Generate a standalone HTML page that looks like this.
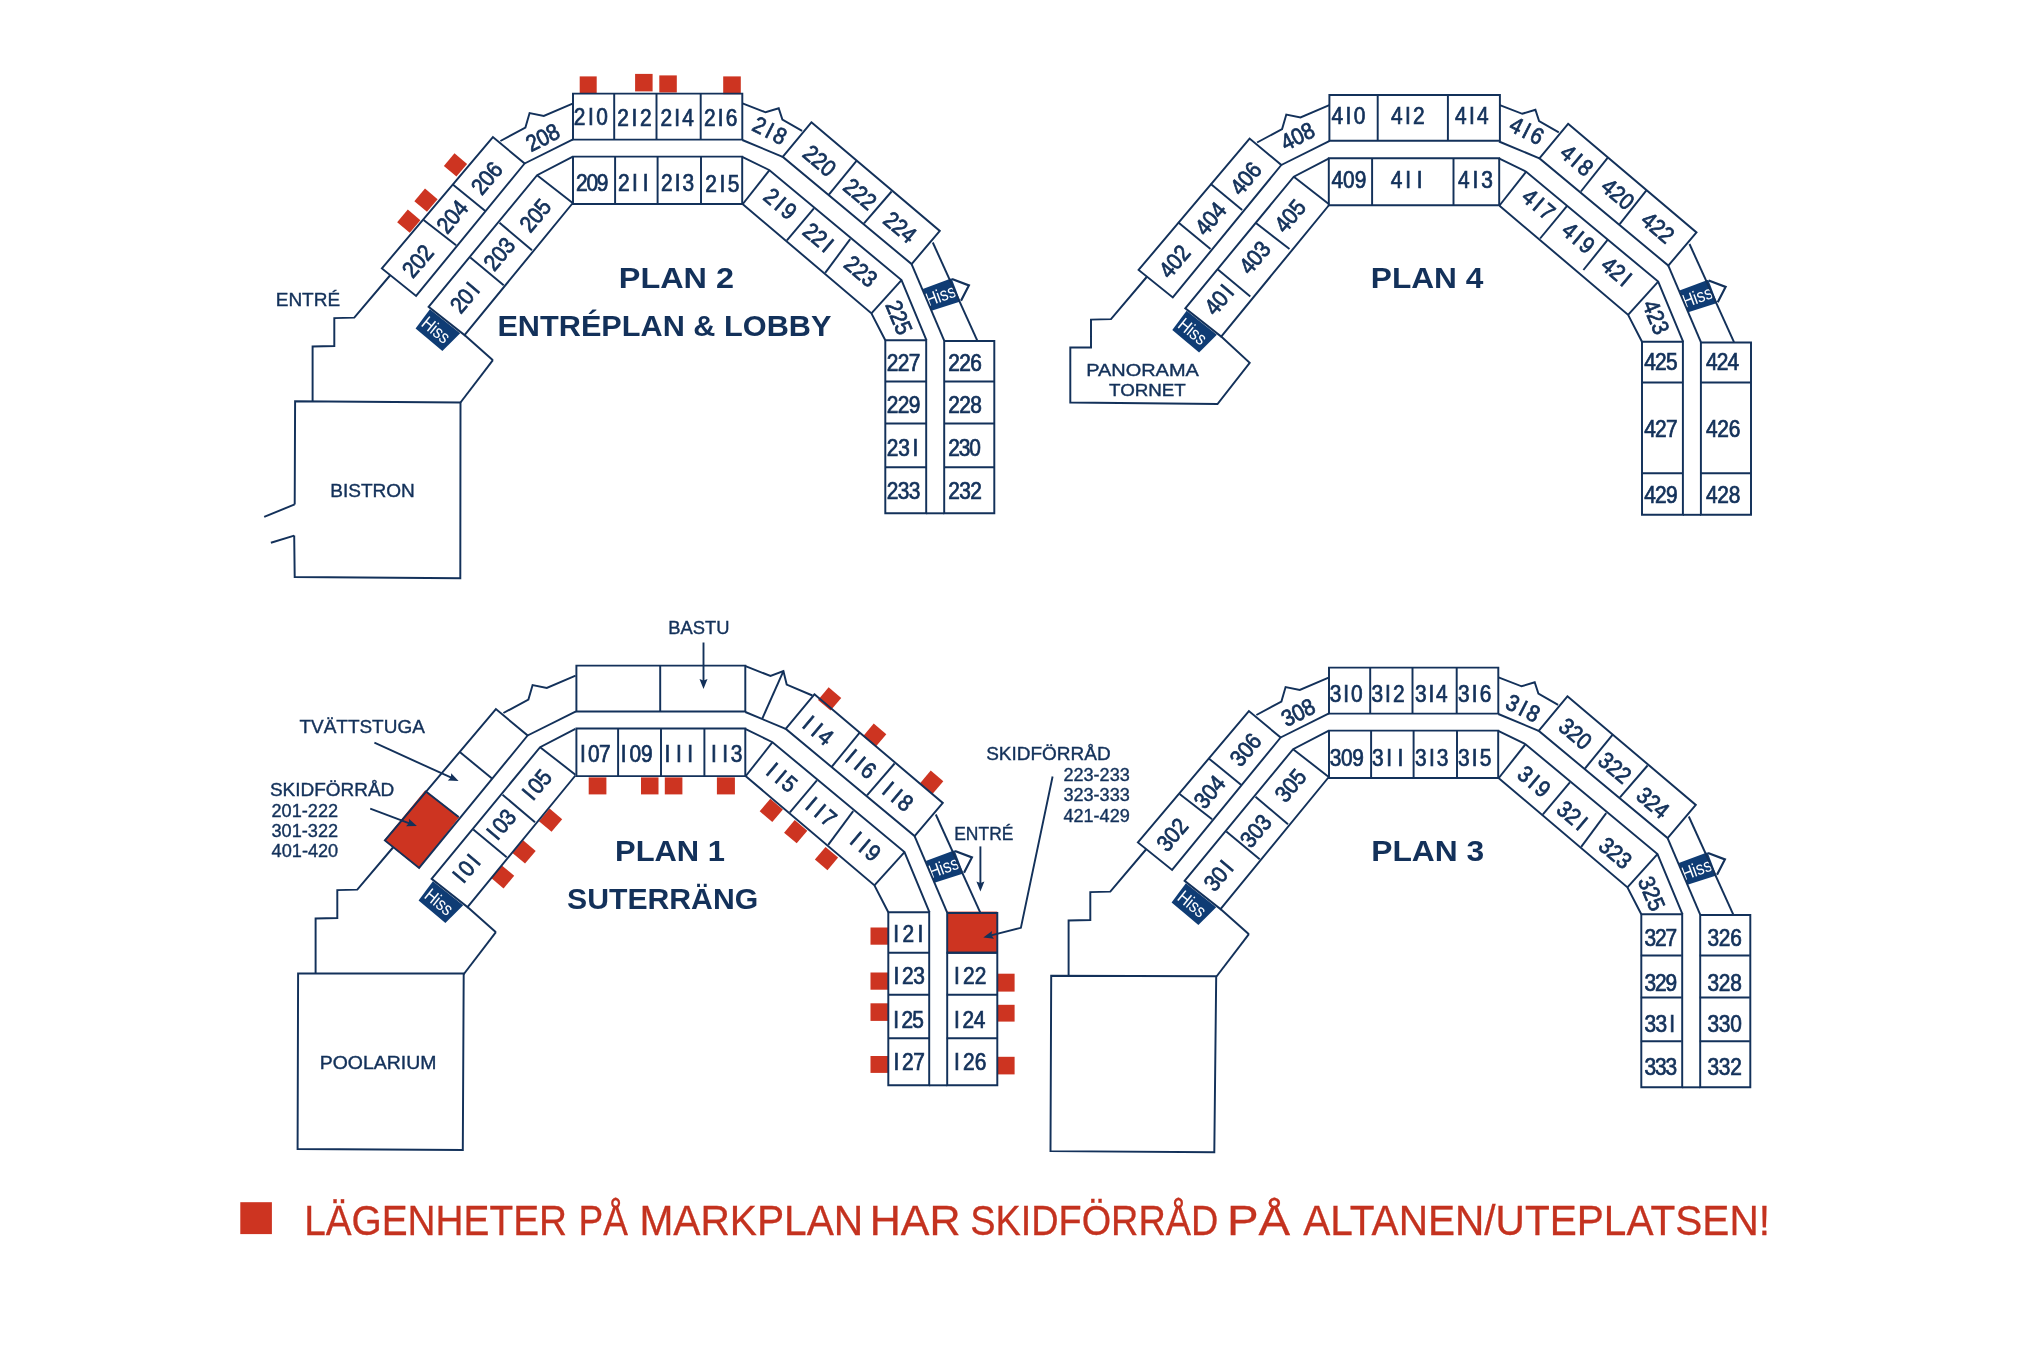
<!DOCTYPE html>
<html><head><meta charset="utf-8"><style>
html,body{margin:0;padding:0;background:#fff;}
svg{display:block;will-change:transform;}
text{font-family:"Liberation Sans",sans-serif;}
</style></head><body>
<svg width="2043" height="1365" viewBox="0 0 2043 1365">
<rect width="2043" height="1365" fill="#ffffff"/>
<polygon points="415.6,328.6 429.9,309.3 460.2,333.2 442.4,351.0" fill="#0f3c74"/>
<text transform="translate(437.0,330.5) rotate(39.0)" x="-1.2" y="6.5" font-size="18.5" text-anchor="middle" fill="#ffffff" textLength="30.5" lengthAdjust="spacingAndGlyphs">Hiss</text>
<polygon points="922.8,288.9 951.6,278.2 960.4,301.4 931.5,310.8" fill="#0f3c74"/>
<text transform="translate(941.6,294.8) rotate(-20.4)" x="-1.2" y="6.5" font-size="18.5" text-anchor="middle" fill="#ffffff" textLength="30.5" lengthAdjust="spacingAndGlyphs">Hiss</text>
<rect x="579.7" y="76.4" width="17.0" height="17.099999999999994" fill="#cd3421"/>
<rect x="635.1" y="73.9" width="17.5" height="17.5" fill="#cd3421"/>
<rect x="659.3" y="75.4" width="17.5" height="17.099999999999994" fill="#cd3421"/>
<rect x="723.2" y="76.4" width="17.59999999999991" height="17.799999999999997" fill="#cd3421"/>
<rect x="-8.2" y="-8.2" width="16.5" height="16.5" fill="#cd3421" transform="translate(455.4,165.0) rotate(-49.8)"/>
<rect x="-8.2" y="-8.2" width="16.5" height="16.5" fill="#cd3421" transform="translate(425.9,200.2) rotate(-49.8)"/>
<rect x="-8.2" y="-8.2" width="16.5" height="16.5" fill="#cd3421" transform="translate(408.7,221.2) rotate(-49.8)"/>
<polygon points="1172.3,330.1 1186.6,310.8 1216.9,334.7 1199.1,352.5" fill="#0f3c74"/>
<text transform="translate(1193.7,332.0) rotate(39.0)" x="-1.2" y="6.5" font-size="18.5" text-anchor="middle" fill="#ffffff" textLength="30.5" lengthAdjust="spacingAndGlyphs">Hiss</text>
<polygon points="1679.5,290.4 1708.3,279.7 1717.1,302.9 1688.2,312.3" fill="#0f3c74"/>
<text transform="translate(1698.3,296.3) rotate(-20.4)" x="-1.2" y="6.5" font-size="18.5" text-anchor="middle" fill="#ffffff" textLength="30.5" lengthAdjust="spacingAndGlyphs">Hiss</text>
<polygon points="1171.6,902.6 1185.9,883.3 1216.2,907.2 1198.4,925.0" fill="#0f3c74"/>
<text transform="translate(1193.0,904.5) rotate(39.0)" x="-1.2" y="6.5" font-size="18.5" text-anchor="middle" fill="#ffffff" textLength="30.5" lengthAdjust="spacingAndGlyphs">Hiss</text>
<polygon points="1678.8,862.9 1707.6,852.2 1716.4,875.4 1687.5,884.8" fill="#0f3c74"/>
<text transform="translate(1697.6,868.8) rotate(-20.4)" x="-1.2" y="6.5" font-size="18.5" text-anchor="middle" fill="#ffffff" textLength="30.5" lengthAdjust="spacingAndGlyphs">Hiss</text>
<polygon points="418.6,900.6 432.9,881.3 463.2,905.2 445.4,923.0" fill="#0f3c74"/>
<text transform="translate(440.0,902.5) rotate(39.0)" x="-1.2" y="6.5" font-size="18.5" text-anchor="middle" fill="#ffffff" textLength="30.5" lengthAdjust="spacingAndGlyphs">Hiss</text>
<polygon points="925.8,860.9 954.6,850.2 963.4,873.4 934.5,882.8" fill="#0f3c74"/>
<text transform="translate(944.6,866.8) rotate(-20.4)" x="-1.2" y="6.5" font-size="18.5" text-anchor="middle" fill="#ffffff" textLength="30.5" lengthAdjust="spacingAndGlyphs">Hiss</text>
<polygon points="384.9,840.4 425.3,791.1 458.6,816.9 419.1,867.9" fill="#cd3421" stroke="#cd3421" stroke-width="1.2" stroke-linejoin="round"/>
<rect x="947.2" y="911.6" width="50.09999999999991" height="41.299999999999955" fill="#cd3421"/>
<rect x="588.7" y="777.4" width="17.699999999999932" height="17.0" fill="#cd3421"/>
<rect x="641.0" y="777.4" width="17.5" height="17.0" fill="#cd3421"/>
<rect x="664.8" y="777.4" width="17.600000000000023" height="17.0" fill="#cd3421"/>
<rect x="716.9" y="777.4" width="18.0" height="17.0" fill="#cd3421"/>
<rect x="-8.2" y="-8.2" width="16.5" height="16.5" fill="#cd3421" transform="translate(550.5,820.2) rotate(-49.8)"/>
<rect x="-8.2" y="-8.2" width="16.5" height="16.5" fill="#cd3421" transform="translate(524.0,852.0) rotate(-49.8)"/>
<rect x="-8.2" y="-8.2" width="16.5" height="16.5" fill="#cd3421" transform="translate(502.5,876.8) rotate(-49.8)"/>
<rect x="-8.2" y="-8.2" width="16.5" height="16.5" fill="#cd3421" transform="translate(829.6,698.9) rotate(40.2)"/>
<rect x="-8.2" y="-8.2" width="16.5" height="16.5" fill="#cd3421" transform="translate(874.7,735.1) rotate(40.2)"/>
<rect x="-8.2" y="-8.2" width="16.5" height="16.5" fill="#cd3421" transform="translate(931.7,782.1) rotate(40.2)"/>
<rect x="-8.2" y="-8.2" width="16.5" height="16.5" fill="#cd3421" transform="translate(771.3,810.3) rotate(40.2)"/>
<rect x="-8.2" y="-8.2" width="16.5" height="16.5" fill="#cd3421" transform="translate(795.7,831.6) rotate(40.2)"/>
<rect x="-8.2" y="-8.2" width="16.5" height="16.5" fill="#cd3421" transform="translate(826.5,858.5) rotate(40.2)"/>
<rect x="870.5" y="927.5" width="17.899999999999977" height="17.200000000000045" fill="#cd3421"/>
<rect x="870.5" y="972.5" width="17.899999999999977" height="17.200000000000045" fill="#cd3421"/>
<rect x="870.5" y="1003.3" width="17.899999999999977" height="17.600000000000023" fill="#cd3421"/>
<rect x="870.5" y="1056.0" width="17.899999999999977" height="16.90000000000009" fill="#cd3421"/>
<rect x="997.3" y="973.7" width="17.300000000000068" height="17.899999999999977" fill="#cd3421"/>
<rect x="997.3" y="1004.8" width="17.300000000000068" height="16.800000000000068" fill="#cd3421"/>
<rect x="997.3" y="1056.8" width="17.300000000000068" height="17.600000000000136" fill="#cd3421"/>
<rect x="240.3" y="1202.2" width="31.599999999999966" height="31.899999999999864" fill="#cd3421"/>
<polygon points="381.9,268.4 492.9,137.1 524.6,163.5 416.1,295.9" fill="none" stroke="#13315a" stroke-width="1.95" stroke-linejoin="miter"/>
<polyline points="500.4,141.0 525.4,127.6 529.6,113.1 543.8,115.9 572.6,103.7" fill="none" stroke="#13315a" stroke-width="1.95" stroke-linejoin="miter"/>
<polyline points="524.6,163.5 573.0,139.4" fill="none" stroke="#13315a" stroke-width="1.95" stroke-linejoin="miter"/>
<polyline points="572.4,156.8 537.1,175.2 428.6,306.8 464.5,335.1 572.4,203.5" fill="none" stroke="#13315a" stroke-width="1.95" stroke-linejoin="miter"/>
<polyline points="537.1,175.2 572.4,202.7" fill="none" stroke="#13315a" stroke-width="1.95" stroke-linejoin="miter"/>
<polyline points="742.5,103.4 765.6,112.3 778.7,108.2 782.4,119.6 802.1,130.8" fill="none" stroke="#13315a" stroke-width="1.95" stroke-linejoin="miter"/>
<polyline points="742.3,140.0 782.7,156.8" fill="none" stroke="#13315a" stroke-width="1.95" stroke-linejoin="miter"/>
<polygon points="811.4,122.3 939.8,230.9 911.6,264.1 782.7,156.8" fill="none" stroke="#13315a" stroke-width="1.95" stroke-linejoin="miter"/>
<polyline points="742.2,156.8 769.5,170.2 901.5,280.1 926.5,340.3" fill="none" stroke="#13315a" stroke-width="1.95" stroke-linejoin="miter"/>
<polyline points="742.8,204.2 871.4,313.3 885.3,340.3" fill="none" stroke="#13315a" stroke-width="1.95" stroke-linejoin="miter"/>
<polyline points="769.5,170.2 742.8,204.0" fill="none" stroke="#13315a" stroke-width="1.95" stroke-linejoin="miter"/>
<polyline points="901.5,280.1 871.4,313.3" fill="none" stroke="#13315a" stroke-width="1.95" stroke-linejoin="miter"/>
<polyline points="932.8,242.5 977.3,340.6" fill="none" stroke="#13315a" stroke-width="1.95" stroke-linejoin="miter"/>
<polyline points="911.6,264.1 944.2,340.6" fill="none" stroke="#13315a" stroke-width="1.95" stroke-linejoin="miter"/>
<polygon points="885.3,340.3 926.2,340.3 926.2,513.3 885.3,513.3" fill="none" stroke="#13315a" stroke-width="1.95" stroke-linejoin="miter"/>
<polygon points="944.2,340.9 994.3,340.9 994.3,513.3 944.2,513.3" fill="none" stroke="#13315a" stroke-width="1.95" stroke-linejoin="miter"/>
<polyline points="926.2,513.3 944.2,513.3" fill="none" stroke="#13315a" stroke-width="1.95" stroke-linejoin="miter"/>
<polyline points="390.4,275.0 354.3,317.6 334.3,318.1 334.3,346.0 312.6,346.5 312.6,401.2" fill="none" stroke="#13315a" stroke-width="1.95" stroke-linejoin="miter"/>
<polyline points="460.5,402.5 492.9,360.2" fill="none" stroke="#13315a" stroke-width="1.95" stroke-linejoin="miter"/>
<polyline points="492.9,360.2 464.5,335.1" fill="none" stroke="#13315a" stroke-width="1.95" stroke-linejoin="miter"/>
<polyline points="952.0,279.0 968.9,285.4 961.0,300.8" fill="none" stroke="#13315a" stroke-width="2.2" stroke-linejoin="miter"/>
<polygon points="573.0,93.6 742.3,93.6 742.3,139.6 573.0,139.6" fill="none" stroke="#13315a" stroke-width="1.95" stroke-linejoin="miter"/>
<polyline points="614.2,93.6 614.2,139.6" fill="none" stroke="#13315a" stroke-width="1.95" stroke-linejoin="miter"/>
<polyline points="656.5,93.6 656.5,139.6" fill="none" stroke="#13315a" stroke-width="1.95" stroke-linejoin="miter"/>
<polyline points="700.7,93.6 700.7,139.6" fill="none" stroke="#13315a" stroke-width="1.95" stroke-linejoin="miter"/>
<polygon points="573.0,156.6 742.2,156.6 742.2,203.9 573.0,203.9" fill="none" stroke="#13315a" stroke-width="1.95" stroke-linejoin="miter"/>
<polyline points="615.1,156.6 615.1,203.9" fill="none" stroke="#13315a" stroke-width="1.95" stroke-linejoin="miter"/>
<polyline points="657.6,156.6 657.6,203.9" fill="none" stroke="#13315a" stroke-width="1.95" stroke-linejoin="miter"/>
<polyline points="701.0,156.6 701.0,203.9" fill="none" stroke="#13315a" stroke-width="1.95" stroke-linejoin="miter"/>
<polyline points="423.6,219.9 456.1,245.3" fill="none" stroke="#13315a" stroke-width="1.95" stroke-linejoin="miter"/>
<polyline points="452.8,184.4 485.3,211.1" fill="none" stroke="#13315a" stroke-width="1.95" stroke-linejoin="miter"/>
<polyline points="499.5,222.7 532.0,250.3" fill="none" stroke="#13315a" stroke-width="1.95" stroke-linejoin="miter"/>
<polyline points="470.3,257.5 503.7,285.3" fill="none" stroke="#13315a" stroke-width="1.95" stroke-linejoin="miter"/>
<polyline points="856.5,160.8 828.9,194.6" fill="none" stroke="#13315a" stroke-width="1.95" stroke-linejoin="miter"/>
<polyline points="891.6,191.5 864.0,223.4" fill="none" stroke="#13315a" stroke-width="1.95" stroke-linejoin="miter"/>
<polyline points="813.9,208.4 786.9,240.3" fill="none" stroke="#13315a" stroke-width="1.95" stroke-linejoin="miter"/>
<polyline points="850.2,239.1 825.2,272.9" fill="none" stroke="#13315a" stroke-width="1.95" stroke-linejoin="miter"/>
<polyline points="885.3,381.5 926.2,381.5" fill="none" stroke="#13315a" stroke-width="1.95" stroke-linejoin="miter"/>
<polyline points="944.2,381.5 994.3,381.5" fill="none" stroke="#13315a" stroke-width="1.95" stroke-linejoin="miter"/>
<polyline points="885.3,423.5 926.2,423.5" fill="none" stroke="#13315a" stroke-width="1.95" stroke-linejoin="miter"/>
<polyline points="944.2,423.5 994.3,423.5" fill="none" stroke="#13315a" stroke-width="1.95" stroke-linejoin="miter"/>
<polyline points="885.3,467.2 926.2,467.2" fill="none" stroke="#13315a" stroke-width="1.95" stroke-linejoin="miter"/>
<polyline points="944.2,467.2 994.3,467.2" fill="none" stroke="#13315a" stroke-width="1.95" stroke-linejoin="miter"/>
<polyline points="294.7,504.4 295.1,401.2 460.5,402.5 460.3,578.3 294.7,577.0 294.2,535.6" fill="none" stroke="#13315a" stroke-width="1.95" stroke-linejoin="miter"/>
<polyline points="294.7,504.4 264.2,516.9" fill="none" stroke="#13315a" stroke-width="1.95" stroke-linejoin="miter"/>
<polyline points="294.2,535.6 270.9,542.7" fill="none" stroke="#13315a" stroke-width="1.95" stroke-linejoin="miter"/>
<text transform="translate(417.7,260.9) rotate(-49.8) scale(0.9,1)" x="-12.7 0.0 12.7" y="8.2" font-size="23.2" text-anchor="middle" fill="#13315a" stroke="#13315a" stroke-width="0.75">202</text>
<text transform="translate(452.0,216.5) rotate(-49.8) scale(0.9,1)" x="-12.7 0.0 12.7" y="8.2" font-size="23.2" text-anchor="middle" fill="#13315a" stroke="#13315a" stroke-width="0.75">204</text>
<text transform="translate(486.5,177.9) rotate(-49.8) scale(0.9,1)" x="-12.7 0.0 12.7" y="8.2" font-size="23.2" text-anchor="middle" fill="#13315a" stroke="#13315a" stroke-width="0.75">206</text>
<text transform="translate(542.6,137.2) rotate(-27.0) scale(0.9,1)" x="-12.7 0.0 12.7" y="8.2" font-size="23.2" text-anchor="middle" fill="#13315a" stroke="#13315a" stroke-width="0.75">208</text>
<text transform="translate(464.2,297.8) rotate(-49.8) scale(0.9,1)" x="-10.4 2.2 14.9" y="8.2" font-size="23.2" text-anchor="middle" fill="#13315a" stroke="#13315a" stroke-width="0.75">20I</text>
<text transform="translate(499.2,253.7) rotate(-49.8) scale(0.9,1)" x="-12.7 0.0 12.7" y="8.2" font-size="23.2" text-anchor="middle" fill="#13315a" stroke="#13315a" stroke-width="0.75">203</text>
<text transform="translate(535.2,215.2) rotate(-49.8) scale(0.9,1)" x="-12.7 0.0 12.7" y="8.2" font-size="23.2" text-anchor="middle" fill="#13315a" stroke="#13315a" stroke-width="0.75">205</text>
<text transform="translate(769.9,130.3) rotate(27.0) scale(0.9,1)" x="-12.7 0.0 12.7" y="8.2" font-size="23.2" text-anchor="middle" fill="#13315a" stroke="#13315a" stroke-width="0.75">2I8</text>
<text transform="translate(819.8,160.5) rotate(40.2) scale(0.9,1)" x="-12.7 0.0 12.7" y="8.2" font-size="23.2" text-anchor="middle" fill="#13315a" stroke="#13315a" stroke-width="0.75">220</text>
<text transform="translate(860.3,193.8) rotate(40.2) scale(0.9,1)" x="-12.7 0.0 12.7" y="8.2" font-size="23.2" text-anchor="middle" fill="#13315a" stroke="#13315a" stroke-width="0.75">222</text>
<text transform="translate(900.2,227.0) rotate(40.2) scale(0.9,1)" x="-12.7 0.0 12.7" y="8.2" font-size="23.2" text-anchor="middle" fill="#13315a" stroke="#13315a" stroke-width="0.75">224</text>
<text transform="translate(780.4,203.6) rotate(40.2) scale(0.9,1)" x="-12.7 0.0 12.7" y="8.2" font-size="23.2" text-anchor="middle" fill="#13315a" stroke="#13315a" stroke-width="0.75">2I9</text>
<text transform="translate(818.1,236.9) rotate(40.2) scale(0.9,1)" x="-10.4 2.2 14.9" y="8.2" font-size="23.2" text-anchor="middle" fill="#13315a" stroke="#13315a" stroke-width="0.75">22I</text>
<text transform="translate(860.9,271.2) rotate(40.2) scale(0.9,1)" x="-12.7 0.0 12.7" y="8.2" font-size="23.2" text-anchor="middle" fill="#13315a" stroke="#13315a" stroke-width="0.75">223</text>
<text transform="translate(899.2,317.3) rotate(67.0) scale(0.9,1)" x="-12.7 0.0 12.7" y="8.2" font-size="23.2" text-anchor="middle" fill="#13315a" stroke="#13315a" stroke-width="0.75">225</text>
<text transform="translate(590.8,117.0) scale(0.9,1)" x="-12.6 0.0 12.6" y="8.2" font-size="23.2" text-anchor="middle" fill="#13315a" stroke="#13315a" stroke-width="0.75">2I0</text>
<text transform="translate(634.5,118.0) scale(0.9,1)" x="-12.6 0.0 12.6" y="8.2" font-size="23.2" text-anchor="middle" fill="#13315a" stroke="#13315a" stroke-width="0.75">2I2</text>
<text transform="translate(677.2,118.0) scale(0.9,1)" x="-12.0 0.0 12.0" y="8.2" font-size="23.2" text-anchor="middle" fill="#13315a" stroke="#13315a" stroke-width="0.75">2I4</text>
<text transform="translate(720.7,118.2) scale(0.9,1)" x="-12.2 0.0 12.2" y="8.2" font-size="23.2" text-anchor="middle" fill="#13315a" stroke="#13315a" stroke-width="0.75">2I6</text>
<text transform="translate(592.2,182.4) scale(0.9,1)" x="-11.6 0.0 11.6" y="8.2" font-size="23.2" text-anchor="middle" fill="#13315a" stroke="#13315a" stroke-width="0.75">209</text>
<text transform="translate(632.8,182.4) scale(0.9,1)" x="-9.9 2.2 14.4" y="8.2" font-size="23.2" text-anchor="middle" fill="#13315a" stroke="#13315a" stroke-width="0.75">2II</text>
<text transform="translate(677.6,182.5) scale(0.9,1)" x="-11.9 0.0 11.9" y="8.2" font-size="23.2" text-anchor="middle" fill="#13315a" stroke="#13315a" stroke-width="0.75">2I3</text>
<text transform="translate(722.3,183.6) scale(0.9,1)" x="-12.6 0.0 12.6" y="8.2" font-size="23.2" text-anchor="middle" fill="#13315a" stroke="#13315a" stroke-width="0.75">2I5</text>
<text transform="translate(903.6,363.1) scale(0.9,1)" x="-12.2 0.0 12.2" y="8.2" font-size="23.2" text-anchor="middle" fill="#13315a" stroke="#13315a" stroke-width="0.75">227</text>
<text transform="translate(903.6,405.2) scale(0.9,1)" x="-12.2 0.0 12.2" y="8.2" font-size="23.2" text-anchor="middle" fill="#13315a" stroke="#13315a" stroke-width="0.75">229</text>
<text transform="translate(902.1,447.7) scale(0.9,1)" x="-10.5 2.2 14.9" y="8.2" font-size="23.2" text-anchor="middle" fill="#13315a" stroke="#13315a" stroke-width="0.75">23I</text>
<text transform="translate(903.6,490.4) scale(0.9,1)" x="-12.2 0.0 12.2" y="8.2" font-size="23.2" text-anchor="middle" fill="#13315a" stroke="#13315a" stroke-width="0.75">233</text>
<text transform="translate(965.1,363.1) scale(0.9,1)" x="-12.2 0.0 12.2" y="8.2" font-size="23.2" text-anchor="middle" fill="#13315a" stroke="#13315a" stroke-width="0.75">226</text>
<text transform="translate(965.1,405.2) scale(0.9,1)" x="-12.2 0.0 12.2" y="8.2" font-size="23.2" text-anchor="middle" fill="#13315a" stroke="#13315a" stroke-width="0.75">228</text>
<text transform="translate(964.6,447.7) scale(0.9,1)" x="-11.6 0.0 11.6" y="8.2" font-size="23.2" text-anchor="middle" fill="#13315a" stroke="#13315a" stroke-width="0.75">230</text>
<text transform="translate(965.1,490.4) scale(0.9,1)" x="-12.2 0.0 12.2" y="8.2" font-size="23.2" text-anchor="middle" fill="#13315a" stroke="#13315a" stroke-width="0.75">232</text>
<text transform="translate(307.9,299.7) rotate(0.0)" x="0" y="6.7" font-size="19" text-anchor="middle" font-weight="normal" fill="#13315a" textLength="64.4" lengthAdjust="spacingAndGlyphs" stroke="#13315a" stroke-width="0.4">ENTRÉ</text>
<text transform="translate(372.5,490.3) rotate(0.0)" x="0" y="6.7" font-size="19" text-anchor="middle" font-weight="normal" fill="#13315a" textLength="84.6" lengthAdjust="spacingAndGlyphs" stroke="#13315a" stroke-width="0.4">BISTRON</text>
<text transform="translate(676.4,277.6) rotate(0.0)" x="0" y="10.3" font-size="29" text-anchor="middle" font-weight="bold" fill="#13315a" textLength="115.2" lengthAdjust="spacingAndGlyphs">PLAN 2</text>
<text transform="translate(664.4,325.6) rotate(0.0)" x="0" y="10.3" font-size="29" text-anchor="middle" font-weight="bold" fill="#13315a" textLength="334.0" lengthAdjust="spacingAndGlyphs">ENTRÉPLAN &amp; LOBBY</text>
<polygon points="1138.6,269.9 1249.6,138.6 1281.3,165.0 1172.8,297.4" fill="none" stroke="#13315a" stroke-width="1.95" stroke-linejoin="miter"/>
<polyline points="1257.1,142.5 1282.1,129.1 1286.3,114.6 1300.5,117.4 1329.3,105.2" fill="none" stroke="#13315a" stroke-width="1.95" stroke-linejoin="miter"/>
<polyline points="1281.3,165.0 1329.7,140.9" fill="none" stroke="#13315a" stroke-width="1.95" stroke-linejoin="miter"/>
<polyline points="1329.1,158.3 1293.8,176.7 1185.3,308.3 1221.2,336.6 1329.1,205.0" fill="none" stroke="#13315a" stroke-width="1.95" stroke-linejoin="miter"/>
<polyline points="1293.8,176.7 1329.1,204.2" fill="none" stroke="#13315a" stroke-width="1.95" stroke-linejoin="miter"/>
<polyline points="1499.2,104.9 1522.3,113.8 1535.4,109.7 1539.1,121.1 1558.8,132.3" fill="none" stroke="#13315a" stroke-width="1.95" stroke-linejoin="miter"/>
<polyline points="1499.0,141.5 1539.4,158.3" fill="none" stroke="#13315a" stroke-width="1.95" stroke-linejoin="miter"/>
<polygon points="1568.1,123.8 1696.5,232.4 1668.3,265.6 1539.4,158.3" fill="none" stroke="#13315a" stroke-width="1.95" stroke-linejoin="miter"/>
<polyline points="1498.9,158.3 1526.2,171.7 1658.2,281.6 1683.2,341.8" fill="none" stroke="#13315a" stroke-width="1.95" stroke-linejoin="miter"/>
<polyline points="1499.5,205.7 1628.1,314.8 1642.0,341.8" fill="none" stroke="#13315a" stroke-width="1.95" stroke-linejoin="miter"/>
<polyline points="1526.2,171.7 1499.5,205.5" fill="none" stroke="#13315a" stroke-width="1.95" stroke-linejoin="miter"/>
<polyline points="1658.2,281.6 1628.1,314.8" fill="none" stroke="#13315a" stroke-width="1.95" stroke-linejoin="miter"/>
<polyline points="1689.5,244.0 1734.0,342.1" fill="none" stroke="#13315a" stroke-width="1.95" stroke-linejoin="miter"/>
<polyline points="1668.3,265.6 1700.9,342.1" fill="none" stroke="#13315a" stroke-width="1.95" stroke-linejoin="miter"/>
<polygon points="1642.0,341.8 1682.9,341.8 1682.9,514.8 1642.0,514.8" fill="none" stroke="#13315a" stroke-width="1.95" stroke-linejoin="miter"/>
<polygon points="1700.9,342.4 1751.0,342.4 1751.0,514.8 1700.9,514.8" fill="none" stroke="#13315a" stroke-width="1.95" stroke-linejoin="miter"/>
<polyline points="1682.9,514.8 1700.9,514.8" fill="none" stroke="#13315a" stroke-width="1.95" stroke-linejoin="miter"/>
<polyline points="1147.1,276.5 1111.0,319.1 1091.0,319.6 1091.0,347.5 1070.3,347.5 1070.3,402.5 1217.5,404.0 1249.7,362.9 1220.4,335.8" fill="none" stroke="#13315a" stroke-width="1.95" stroke-linejoin="miter"/>
<polyline points="1708.7,280.5 1725.6,286.9 1717.7,302.3" fill="none" stroke="#13315a" stroke-width="2.2" stroke-linejoin="miter"/>
<polygon points="1329.4,95.0 1499.9,95.0 1499.9,140.8 1329.4,140.8" fill="none" stroke="#13315a" stroke-width="1.95" stroke-linejoin="miter"/>
<polyline points="1377.7,95.0 1377.7,140.8" fill="none" stroke="#13315a" stroke-width="1.95" stroke-linejoin="miter"/>
<polyline points="1447.9,95.0 1447.9,140.8" fill="none" stroke="#13315a" stroke-width="1.95" stroke-linejoin="miter"/>
<polygon points="1328.8,158.3 1499.2,158.3 1499.2,205.3 1328.8,205.3" fill="none" stroke="#13315a" stroke-width="1.95" stroke-linejoin="miter"/>
<polyline points="1372.1,158.3 1372.1,205.3" fill="none" stroke="#13315a" stroke-width="1.95" stroke-linejoin="miter"/>
<polyline points="1453.5,158.3 1453.5,205.3" fill="none" stroke="#13315a" stroke-width="1.95" stroke-linejoin="miter"/>
<polyline points="1178.1,222.3 1210.5,249.1" fill="none" stroke="#13315a" stroke-width="1.95" stroke-linejoin="miter"/>
<polyline points="1210.5,183.7 1242.2,209.9" fill="none" stroke="#13315a" stroke-width="1.95" stroke-linejoin="miter"/>
<polyline points="1217.9,269.6 1250.3,296.4" fill="none" stroke="#13315a" stroke-width="1.95" stroke-linejoin="miter"/>
<polyline points="1255.9,222.9 1289.5,249.1" fill="none" stroke="#13315a" stroke-width="1.95" stroke-linejoin="miter"/>
<polyline points="1607.8,157.6 1580.9,191.5" fill="none" stroke="#13315a" stroke-width="1.95" stroke-linejoin="miter"/>
<polyline points="1646.6,190.2 1619.7,224.1" fill="none" stroke="#13315a" stroke-width="1.95" stroke-linejoin="miter"/>
<polyline points="1567.1,205.9 1540.1,238.5" fill="none" stroke="#13315a" stroke-width="1.95" stroke-linejoin="miter"/>
<polyline points="1607.8,239.7 1583.4,270.0" fill="none" stroke="#13315a" stroke-width="1.95" stroke-linejoin="miter"/>
<polyline points="1642.0,382.5 1682.9,382.5" fill="none" stroke="#13315a" stroke-width="1.95" stroke-linejoin="miter"/>
<polyline points="1700.9,382.5 1751.0,382.5" fill="none" stroke="#13315a" stroke-width="1.95" stroke-linejoin="miter"/>
<polyline points="1642.0,473.3 1682.9,473.3" fill="none" stroke="#13315a" stroke-width="1.95" stroke-linejoin="miter"/>
<polyline points="1700.9,473.3 1751.0,473.3" fill="none" stroke="#13315a" stroke-width="1.95" stroke-linejoin="miter"/>
<text transform="translate(1174.3,261.3) rotate(-49.8) scale(0.9,1)" x="-12.7 0.0 12.7" y="8.2" font-size="23.2" text-anchor="middle" fill="#13315a" stroke="#13315a" stroke-width="0.75">402</text>
<text transform="translate(1210.3,218.6) rotate(-49.8) scale(0.9,1)" x="-12.7 0.0 12.7" y="8.2" font-size="23.2" text-anchor="middle" fill="#13315a" stroke="#13315a" stroke-width="0.75">404</text>
<text transform="translate(1245.6,178.3) rotate(-49.8) scale(0.9,1)" x="-12.7 0.0 12.7" y="8.2" font-size="23.2" text-anchor="middle" fill="#13315a" stroke="#13315a" stroke-width="0.75">406</text>
<text transform="translate(1297.4,136.1) rotate(-27.0) scale(0.9,1)" x="-12.7 0.0 12.7" y="8.2" font-size="23.2" text-anchor="middle" fill="#13315a" stroke="#13315a" stroke-width="0.75">408</text>
<text transform="translate(1218.4,299.9) rotate(-49.8) scale(0.9,1)" x="-10.4 2.2 14.9" y="8.2" font-size="23.2" text-anchor="middle" fill="#13315a" stroke="#13315a" stroke-width="0.75">40I</text>
<text transform="translate(1254.5,257.4) rotate(-49.8) scale(0.9,1)" x="-12.7 0.0 12.7" y="8.2" font-size="23.2" text-anchor="middle" fill="#13315a" stroke="#13315a" stroke-width="0.75">403</text>
<text transform="translate(1289.8,215.8) rotate(-49.8) scale(0.9,1)" x="-12.7 0.0 12.7" y="8.2" font-size="23.2" text-anchor="middle" fill="#13315a" stroke="#13315a" stroke-width="0.75">405</text>
<text transform="translate(1526.9,130.5) rotate(27.0) scale(0.9,1)" x="-12.7 0.0 12.7" y="8.2" font-size="23.2" text-anchor="middle" fill="#13315a" stroke="#13315a" stroke-width="0.75">4I6</text>
<text transform="translate(1577.0,160.1) rotate(40.2) scale(0.9,1)" x="-12.7 0.0 12.7" y="8.2" font-size="23.2" text-anchor="middle" fill="#13315a" stroke="#13315a" stroke-width="0.75">4I8</text>
<text transform="translate(1617.9,193.8) rotate(40.2) scale(0.9,1)" x="-12.7 0.0 12.7" y="8.2" font-size="23.2" text-anchor="middle" fill="#13315a" stroke="#13315a" stroke-width="0.75">420</text>
<text transform="translate(1657.9,227.3) rotate(40.2) scale(0.9,1)" x="-12.7 0.0 12.7" y="8.2" font-size="23.2" text-anchor="middle" fill="#13315a" stroke="#13315a" stroke-width="0.75">422</text>
<text transform="translate(1538.8,204.2) rotate(40.2) scale(0.9,1)" x="-12.7 0.0 12.7" y="8.2" font-size="23.2" text-anchor="middle" fill="#13315a" stroke="#13315a" stroke-width="0.75">4I7</text>
<text transform="translate(1578.6,237.5) rotate(40.2) scale(0.9,1)" x="-12.7 0.0 12.7" y="8.2" font-size="23.2" text-anchor="middle" fill="#13315a" stroke="#13315a" stroke-width="0.75">4I9</text>
<text transform="translate(1616.4,270.9) rotate(40.2) scale(0.9,1)" x="-10.4 2.2 14.9" y="8.2" font-size="23.2" text-anchor="middle" fill="#13315a" stroke="#13315a" stroke-width="0.75">42I</text>
<text transform="translate(1656.2,317.0) rotate(67.0) scale(0.9,1)" x="-12.7 0.0 12.7" y="8.2" font-size="23.2" text-anchor="middle" fill="#13315a" stroke="#13315a" stroke-width="0.75">423</text>
<text transform="translate(1348.4,116.1) scale(0.9,1)" x="-12.4 0.0 12.4" y="8.2" font-size="23.2" text-anchor="middle" fill="#13315a" stroke="#13315a" stroke-width="0.75">4I0</text>
<text transform="translate(1407.8,116.1) scale(0.9,1)" x="-12.3 0.0 12.3" y="8.2" font-size="23.2" text-anchor="middle" fill="#13315a" stroke="#13315a" stroke-width="0.75">4I2</text>
<text transform="translate(1471.8,116.1) scale(0.9,1)" x="-12.2 0.0 12.2" y="8.2" font-size="23.2" text-anchor="middle" fill="#13315a" stroke="#13315a" stroke-width="0.75">4I4</text>
<text transform="translate(1348.9,179.9) scale(0.9,1)" x="-13.0 0.0 13.0" y="8.2" font-size="23.2" text-anchor="middle" fill="#13315a" stroke="#13315a" stroke-width="0.75">409</text>
<text transform="translate(1406.2,179.9) scale(0.9,1)" x="-10.6 2.2 15.1" y="8.2" font-size="23.2" text-anchor="middle" fill="#13315a" stroke="#13315a" stroke-width="0.75">4II</text>
<text transform="translate(1475.4,179.9) scale(0.9,1)" x="-13.0 0.0 13.0" y="8.2" font-size="23.2" text-anchor="middle" fill="#13315a" stroke="#13315a" stroke-width="0.75">4I3</text>
<text transform="translate(1660.9,362.2) scale(0.9,1)" x="-12.1 0.0 12.1" y="8.2" font-size="23.2" text-anchor="middle" fill="#13315a" stroke="#13315a" stroke-width="0.75">425</text>
<text transform="translate(1660.9,428.3) scale(0.9,1)" x="-12.1 0.0 12.1" y="8.2" font-size="23.2" text-anchor="middle" fill="#13315a" stroke="#13315a" stroke-width="0.75">427</text>
<text transform="translate(1660.9,494.7) scale(0.9,1)" x="-12.1 0.0 12.1" y="8.2" font-size="23.2" text-anchor="middle" fill="#13315a" stroke="#13315a" stroke-width="0.75">429</text>
<text transform="translate(1722.6,362.2) scale(0.9,1)" x="-12.0 0.0 12.0" y="8.2" font-size="23.2" text-anchor="middle" fill="#13315a" stroke="#13315a" stroke-width="0.75">424</text>
<text transform="translate(1723.1,428.3) scale(0.9,1)" x="-12.6 0.0 12.6" y="8.2" font-size="23.2" text-anchor="middle" fill="#13315a" stroke="#13315a" stroke-width="0.75">426</text>
<text transform="translate(1723.1,494.7) scale(0.9,1)" x="-12.6 0.0 12.6" y="8.2" font-size="23.2" text-anchor="middle" fill="#13315a" stroke="#13315a" stroke-width="0.75">428</text>
<text transform="translate(1142.5,370.2) rotate(0.0)" x="0" y="5.9" font-size="16.5" text-anchor="middle" font-weight="normal" fill="#13315a" textLength="112.6" lengthAdjust="spacingAndGlyphs" stroke="#13315a" stroke-width="0.4">PANORAMA</text>
<text transform="translate(1147.4,390.4) rotate(0.0)" x="0" y="5.9" font-size="16.5" text-anchor="middle" font-weight="normal" fill="#13315a" textLength="76.8" lengthAdjust="spacingAndGlyphs" stroke="#13315a" stroke-width="0.4">TORNET</text>
<text transform="translate(1427.1,277.2) rotate(0.0)" x="0" y="10.3" font-size="29" text-anchor="middle" font-weight="bold" fill="#13315a" textLength="112.6" lengthAdjust="spacingAndGlyphs">PLAN 4</text>
<polygon points="1137.9,842.4 1248.9,711.1 1280.6,737.5 1172.1,869.9" fill="none" stroke="#13315a" stroke-width="1.95" stroke-linejoin="miter"/>
<polyline points="1256.4,715.0 1281.4,701.6 1285.6,687.1 1299.8,689.9 1328.6,677.7" fill="none" stroke="#13315a" stroke-width="1.95" stroke-linejoin="miter"/>
<polyline points="1280.6,737.5 1329.0,713.4" fill="none" stroke="#13315a" stroke-width="1.95" stroke-linejoin="miter"/>
<polyline points="1328.4,730.8 1293.1,749.2 1184.6,880.8 1220.5,909.1 1328.4,777.5" fill="none" stroke="#13315a" stroke-width="1.95" stroke-linejoin="miter"/>
<polyline points="1293.1,749.2 1328.4,776.7" fill="none" stroke="#13315a" stroke-width="1.95" stroke-linejoin="miter"/>
<polyline points="1498.5,677.4 1521.6,686.3 1534.7,682.2 1538.4,693.6 1558.1,704.8" fill="none" stroke="#13315a" stroke-width="1.95" stroke-linejoin="miter"/>
<polyline points="1498.3,714.0 1538.7,730.8" fill="none" stroke="#13315a" stroke-width="1.95" stroke-linejoin="miter"/>
<polygon points="1567.4,696.3 1695.8,804.9 1667.6,838.1 1538.7,730.8" fill="none" stroke="#13315a" stroke-width="1.95" stroke-linejoin="miter"/>
<polyline points="1498.2,730.8 1525.5,744.2 1657.5,854.1 1682.5,914.3" fill="none" stroke="#13315a" stroke-width="1.95" stroke-linejoin="miter"/>
<polyline points="1498.8,778.2 1627.4,887.3 1641.3,914.3" fill="none" stroke="#13315a" stroke-width="1.95" stroke-linejoin="miter"/>
<polyline points="1525.5,744.2 1498.8,778.0" fill="none" stroke="#13315a" stroke-width="1.95" stroke-linejoin="miter"/>
<polyline points="1657.5,854.1 1627.4,887.3" fill="none" stroke="#13315a" stroke-width="1.95" stroke-linejoin="miter"/>
<polyline points="1688.8,816.5 1733.3,914.6" fill="none" stroke="#13315a" stroke-width="1.95" stroke-linejoin="miter"/>
<polyline points="1667.6,838.1 1700.2,914.6" fill="none" stroke="#13315a" stroke-width="1.95" stroke-linejoin="miter"/>
<polygon points="1641.3,914.3 1682.2,914.3 1682.2,1087.3 1641.3,1087.3" fill="none" stroke="#13315a" stroke-width="1.95" stroke-linejoin="miter"/>
<polygon points="1700.2,914.9 1750.3,914.9 1750.3,1087.3 1700.2,1087.3" fill="none" stroke="#13315a" stroke-width="1.95" stroke-linejoin="miter"/>
<polyline points="1682.2,1087.3 1700.2,1087.3" fill="none" stroke="#13315a" stroke-width="1.95" stroke-linejoin="miter"/>
<polyline points="1146.4,849.0 1110.3,891.6 1090.3,892.1 1090.3,920.0 1068.6,920.5 1068.6,975.2" fill="none" stroke="#13315a" stroke-width="1.95" stroke-linejoin="miter"/>
<polyline points="1216.5,976.5 1248.9,934.2" fill="none" stroke="#13315a" stroke-width="1.95" stroke-linejoin="miter"/>
<polyline points="1248.9,934.2 1220.5,909.1" fill="none" stroke="#13315a" stroke-width="1.95" stroke-linejoin="miter"/>
<polyline points="1708.0,853.0 1724.9,859.4 1717.0,874.8" fill="none" stroke="#13315a" stroke-width="2.2" stroke-linejoin="miter"/>
<polygon points="1329.0,667.6 1498.3,667.6 1498.3,713.6 1329.0,713.6" fill="none" stroke="#13315a" stroke-width="1.95" stroke-linejoin="miter"/>
<polyline points="1370.2,667.6 1370.2,713.6" fill="none" stroke="#13315a" stroke-width="1.95" stroke-linejoin="miter"/>
<polyline points="1412.5,667.6 1412.5,713.6" fill="none" stroke="#13315a" stroke-width="1.95" stroke-linejoin="miter"/>
<polyline points="1456.7,667.6 1456.7,713.6" fill="none" stroke="#13315a" stroke-width="1.95" stroke-linejoin="miter"/>
<polygon points="1329.0,730.6 1498.2,730.6 1498.2,777.9 1329.0,777.9" fill="none" stroke="#13315a" stroke-width="1.95" stroke-linejoin="miter"/>
<polyline points="1371.1,730.6 1371.1,777.9" fill="none" stroke="#13315a" stroke-width="1.95" stroke-linejoin="miter"/>
<polyline points="1413.6,730.6 1413.6,777.9" fill="none" stroke="#13315a" stroke-width="1.95" stroke-linejoin="miter"/>
<polyline points="1457.0,730.6 1457.0,777.9" fill="none" stroke="#13315a" stroke-width="1.95" stroke-linejoin="miter"/>
<polyline points="1179.6,793.9 1212.1,819.3" fill="none" stroke="#13315a" stroke-width="1.95" stroke-linejoin="miter"/>
<polyline points="1208.8,758.4 1241.3,785.1" fill="none" stroke="#13315a" stroke-width="1.95" stroke-linejoin="miter"/>
<polyline points="1255.5,796.7 1288.0,824.3" fill="none" stroke="#13315a" stroke-width="1.95" stroke-linejoin="miter"/>
<polyline points="1226.3,831.5 1259.7,859.3" fill="none" stroke="#13315a" stroke-width="1.95" stroke-linejoin="miter"/>
<polyline points="1612.5,734.8 1584.9,768.6" fill="none" stroke="#13315a" stroke-width="1.95" stroke-linejoin="miter"/>
<polyline points="1647.6,765.5 1620.0,797.4" fill="none" stroke="#13315a" stroke-width="1.95" stroke-linejoin="miter"/>
<polyline points="1569.9,782.4 1542.9,814.3" fill="none" stroke="#13315a" stroke-width="1.95" stroke-linejoin="miter"/>
<polyline points="1606.2,813.1 1581.2,846.9" fill="none" stroke="#13315a" stroke-width="1.95" stroke-linejoin="miter"/>
<polyline points="1640.8,955.5 1681.7,955.5" fill="none" stroke="#13315a" stroke-width="1.95" stroke-linejoin="miter"/>
<polyline points="1699.7,955.5 1749.8,955.5" fill="none" stroke="#13315a" stroke-width="1.95" stroke-linejoin="miter"/>
<polyline points="1640.8,997.5 1681.7,997.5" fill="none" stroke="#13315a" stroke-width="1.95" stroke-linejoin="miter"/>
<polyline points="1699.7,997.5 1749.8,997.5" fill="none" stroke="#13315a" stroke-width="1.95" stroke-linejoin="miter"/>
<polyline points="1640.8,1041.2 1681.7,1041.2" fill="none" stroke="#13315a" stroke-width="1.95" stroke-linejoin="miter"/>
<polyline points="1699.7,1041.2 1749.8,1041.2" fill="none" stroke="#13315a" stroke-width="1.95" stroke-linejoin="miter"/>
<polygon points="1051.2,975.7 1216.2,976.2 1214.3,1152.3 1050.5,1151.1" fill="none" stroke="#13315a" stroke-width="1.95" stroke-linejoin="miter"/>
<text transform="translate(1172.0,834.6) rotate(-49.8) scale(0.9,1)" x="-12.7 0.0 12.7" y="8.2" font-size="23.2" text-anchor="middle" fill="#13315a" stroke="#13315a" stroke-width="0.75">302</text>
<text transform="translate(1209.4,791.7) rotate(-49.8) scale(0.9,1)" x="-12.7 0.0 12.7" y="8.2" font-size="23.2" text-anchor="middle" fill="#13315a" stroke="#13315a" stroke-width="0.75">304</text>
<text transform="translate(1245.4,749.6) rotate(-49.8) scale(0.9,1)" x="-12.7 0.0 12.7" y="8.2" font-size="23.2" text-anchor="middle" fill="#13315a" stroke="#13315a" stroke-width="0.75">306</text>
<text transform="translate(1298.1,712.2) rotate(-27.0) scale(0.9,1)" x="-12.7 0.0 12.7" y="8.2" font-size="23.2" text-anchor="middle" fill="#13315a" stroke="#13315a" stroke-width="0.75">308</text>
<text transform="translate(1217.9,875.8) rotate(-49.8) scale(0.9,1)" x="-10.4 2.2 14.9" y="8.2" font-size="23.2" text-anchor="middle" fill="#13315a" stroke="#13315a" stroke-width="0.75">30I</text>
<text transform="translate(1255.5,830.7) rotate(-49.8) scale(0.9,1)" x="-12.7 0.0 12.7" y="8.2" font-size="23.2" text-anchor="middle" fill="#13315a" stroke="#13315a" stroke-width="0.75">303</text>
<text transform="translate(1290.3,785.2) rotate(-49.8) scale(0.9,1)" x="-12.7 0.0 12.7" y="8.2" font-size="23.2" text-anchor="middle" fill="#13315a" stroke="#13315a" stroke-width="0.75">305</text>
<text transform="translate(1523.2,707.9) rotate(27.0) scale(0.9,1)" x="-12.7 0.0 12.7" y="8.2" font-size="23.2" text-anchor="middle" fill="#13315a" stroke="#13315a" stroke-width="0.75">3I8</text>
<text transform="translate(1575.4,733.6) rotate(40.2) scale(0.9,1)" x="-12.7 0.0 12.7" y="8.2" font-size="23.2" text-anchor="middle" fill="#13315a" stroke="#13315a" stroke-width="0.75">320</text>
<text transform="translate(1614.9,767.7) rotate(40.2) scale(0.9,1)" x="-12.7 0.0 12.7" y="8.2" font-size="23.2" text-anchor="middle" fill="#13315a" stroke="#13315a" stroke-width="0.75">322</text>
<text transform="translate(1653.1,802.7) rotate(40.2) scale(0.9,1)" x="-12.7 0.0 12.7" y="8.2" font-size="23.2" text-anchor="middle" fill="#13315a" stroke="#13315a" stroke-width="0.75">324</text>
<text transform="translate(1534.2,781.4) rotate(40.2) scale(0.9,1)" x="-12.7 0.0 12.7" y="8.2" font-size="23.2" text-anchor="middle" fill="#13315a" stroke="#13315a" stroke-width="0.75">3I9</text>
<text transform="translate(1572.0,814.9) rotate(40.2) scale(0.9,1)" x="-10.4 2.2 14.9" y="8.2" font-size="23.2" text-anchor="middle" fill="#13315a" stroke="#13315a" stroke-width="0.75">32I</text>
<text transform="translate(1615.4,852.8) rotate(40.2) scale(0.9,1)" x="-12.7 0.0 12.7" y="8.2" font-size="23.2" text-anchor="middle" fill="#13315a" stroke="#13315a" stroke-width="0.75">323</text>
<text transform="translate(1651.8,893.5) rotate(67.0) scale(0.9,1)" x="-12.7 0.0 12.7" y="8.2" font-size="23.2" text-anchor="middle" fill="#13315a" stroke="#13315a" stroke-width="0.75">325</text>
<text transform="translate(1346.1,693.6) scale(0.9,1)" x="-11.8 0.0 11.8" y="8.2" font-size="23.2" text-anchor="middle" fill="#13315a" stroke="#13315a" stroke-width="0.75">3I0</text>
<text transform="translate(1388.0,693.6) scale(0.9,1)" x="-12.0 0.0 12.0" y="8.2" font-size="23.2" text-anchor="middle" fill="#13315a" stroke="#13315a" stroke-width="0.75">3I2</text>
<text transform="translate(1431.4,693.6) scale(0.9,1)" x="-11.7 0.0 11.7" y="8.2" font-size="23.2" text-anchor="middle" fill="#13315a" stroke="#13315a" stroke-width="0.75">3I4</text>
<text transform="translate(1474.7,693.6) scale(0.9,1)" x="-12.2 0.0 12.2" y="8.2" font-size="23.2" text-anchor="middle" fill="#13315a" stroke="#13315a" stroke-width="0.75">3I6</text>
<text transform="translate(1346.8,757.3) scale(0.9,1)" x="-12.6 0.0 12.6" y="8.2" font-size="23.2" text-anchor="middle" fill="#13315a" stroke="#13315a" stroke-width="0.75">309</text>
<text transform="translate(1387.1,757.3) scale(0.9,1)" x="-10.3 2.2 14.7" y="8.2" font-size="23.2" text-anchor="middle" fill="#13315a" stroke="#13315a" stroke-width="0.75">3II</text>
<text transform="translate(1431.8,757.3) scale(0.9,1)" x="-12.1 0.0 12.1" y="8.2" font-size="23.2" text-anchor="middle" fill="#13315a" stroke="#13315a" stroke-width="0.75">3I3</text>
<text transform="translate(1474.7,757.3) scale(0.9,1)" x="-12.2 0.0 12.2" y="8.2" font-size="23.2" text-anchor="middle" fill="#13315a" stroke="#13315a" stroke-width="0.75">3I5</text>
<text transform="translate(1660.9,937.9) scale(0.9,1)" x="-11.7 0.0 11.7" y="8.2" font-size="23.2" text-anchor="middle" fill="#13315a" stroke="#13315a" stroke-width="0.75">327</text>
<text transform="translate(1660.9,982.3) scale(0.9,1)" x="-11.7 0.0 11.7" y="8.2" font-size="23.2" text-anchor="middle" fill="#13315a" stroke="#13315a" stroke-width="0.75">329</text>
<text transform="translate(1659.3,1024.2) scale(0.9,1)" x="-10.0 2.2 14.4" y="8.2" font-size="23.2" text-anchor="middle" fill="#13315a" stroke="#13315a" stroke-width="0.75">33I</text>
<text transform="translate(1660.9,1066.7) scale(0.9,1)" x="-11.7 0.0 11.7" y="8.2" font-size="23.2" text-anchor="middle" fill="#13315a" stroke="#13315a" stroke-width="0.75">333</text>
<text transform="translate(1724.6,937.9) scale(0.9,1)" x="-12.6 0.0 12.6" y="8.2" font-size="23.2" text-anchor="middle" fill="#13315a" stroke="#13315a" stroke-width="0.75">326</text>
<text transform="translate(1724.6,982.3) scale(0.9,1)" x="-12.6 0.0 12.6" y="8.2" font-size="23.2" text-anchor="middle" fill="#13315a" stroke="#13315a" stroke-width="0.75">328</text>
<text transform="translate(1724.6,1024.2) scale(0.9,1)" x="-12.6 0.0 12.6" y="8.2" font-size="23.2" text-anchor="middle" fill="#13315a" stroke="#13315a" stroke-width="0.75">330</text>
<text transform="translate(1724.6,1066.7) scale(0.9,1)" x="-12.6 0.0 12.6" y="8.2" font-size="23.2" text-anchor="middle" fill="#13315a" stroke="#13315a" stroke-width="0.75">332</text>
<text transform="translate(1427.7,851.0) rotate(0.0)" x="0" y="10.3" font-size="29" text-anchor="middle" font-weight="bold" fill="#13315a" textLength="113.0" lengthAdjust="spacingAndGlyphs">PLAN 3</text>
<polygon points="384.9,840.4 495.9,709.1 527.6,735.5 419.1,867.9" fill="none" stroke="#13315a" stroke-width="1.95" stroke-linejoin="miter"/>
<polyline points="503.4,713.0 528.4,699.6 532.6,685.1 546.8,687.9 575.6,675.7" fill="none" stroke="#13315a" stroke-width="1.95" stroke-linejoin="miter"/>
<polyline points="527.6,735.5 576.0,711.4" fill="none" stroke="#13315a" stroke-width="1.95" stroke-linejoin="miter"/>
<polyline points="575.4,728.8 540.1,747.2 431.6,878.8 467.5,907.1 575.4,775.5" fill="none" stroke="#13315a" stroke-width="1.95" stroke-linejoin="miter"/>
<polyline points="540.1,747.2 575.4,774.7" fill="none" stroke="#13315a" stroke-width="1.95" stroke-linejoin="miter"/>
<polyline points="745.3,712.0 785.7,728.8" fill="none" stroke="#13315a" stroke-width="1.95" stroke-linejoin="miter"/>
<polygon points="814.4,694.3 942.8,802.9 914.6,836.1 785.7,728.8" fill="none" stroke="#13315a" stroke-width="1.95" stroke-linejoin="miter"/>
<polyline points="745.2,728.8 772.5,742.2 904.5,852.1 929.5,912.3" fill="none" stroke="#13315a" stroke-width="1.95" stroke-linejoin="miter"/>
<polyline points="745.8,776.2 874.4,885.3 888.3,912.3" fill="none" stroke="#13315a" stroke-width="1.95" stroke-linejoin="miter"/>
<polyline points="772.5,742.2 745.8,776.0" fill="none" stroke="#13315a" stroke-width="1.95" stroke-linejoin="miter"/>
<polyline points="904.5,852.1 874.4,885.3" fill="none" stroke="#13315a" stroke-width="1.95" stroke-linejoin="miter"/>
<polyline points="935.8,814.5 980.3,912.6" fill="none" stroke="#13315a" stroke-width="1.95" stroke-linejoin="miter"/>
<polyline points="914.6,836.1 947.2,912.6" fill="none" stroke="#13315a" stroke-width="1.95" stroke-linejoin="miter"/>
<polygon points="888.3,912.3 929.2,912.3 929.2,1085.3 888.3,1085.3" fill="none" stroke="#13315a" stroke-width="1.95" stroke-linejoin="miter"/>
<polygon points="947.2,912.9 997.3,912.9 997.3,1085.3 947.2,1085.3" fill="none" stroke="#13315a" stroke-width="1.95" stroke-linejoin="miter"/>
<polyline points="929.2,1085.3 947.2,1085.3" fill="none" stroke="#13315a" stroke-width="1.95" stroke-linejoin="miter"/>
<polyline points="393.4,847.0 357.3,889.6 337.3,890.1 337.3,918.0 315.6,918.5 315.6,973.2" fill="none" stroke="#13315a" stroke-width="1.95" stroke-linejoin="miter"/>
<polyline points="463.5,974.5 495.9,932.2" fill="none" stroke="#13315a" stroke-width="1.95" stroke-linejoin="miter"/>
<polyline points="495.9,932.2 467.5,907.1" fill="none" stroke="#13315a" stroke-width="1.95" stroke-linejoin="miter"/>
<polyline points="955.0,851.0 971.9,857.4 964.0,872.8" fill="none" stroke="#13315a" stroke-width="2.2" stroke-linejoin="miter"/>
<polygon points="576.4,665.6 745.3,665.6 745.3,711.5 576.4,711.5" fill="none" stroke="#13315a" stroke-width="1.95" stroke-linejoin="miter"/>
<polyline points="660.2,665.6 660.2,711.5" fill="none" stroke="#13315a" stroke-width="1.95" stroke-linejoin="miter"/>
<polygon points="576.4,728.5 745.3,728.5 745.3,776.1 576.4,776.1" fill="none" stroke="#13315a" stroke-width="1.95" stroke-linejoin="miter"/>
<polyline points="618.1,728.5 618.1,776.1" fill="none" stroke="#13315a" stroke-width="1.95" stroke-linejoin="miter"/>
<polyline points="661.0,728.5 661.0,776.1" fill="none" stroke="#13315a" stroke-width="1.95" stroke-linejoin="miter"/>
<polyline points="704.4,728.5 704.4,776.1" fill="none" stroke="#13315a" stroke-width="1.95" stroke-linejoin="miter"/>
<polyline points="745.5,666.2 770.5,676.0 783.4,671.1 786.7,684.6 812.4,695.5" fill="none" stroke="#13315a" stroke-width="1.95" stroke-linejoin="miter"/>
<polyline points="783.4,671.1 762.3,718.6" fill="none" stroke="#13315a" stroke-width="1.95" stroke-linejoin="miter"/>
<polyline points="459.5,751.8 492.0,778.5" fill="none" stroke="#13315a" stroke-width="1.95" stroke-linejoin="miter"/>
<polyline points="425.3,791.1 458.6,816.9" fill="none" stroke="#13315a" stroke-width="1.95" stroke-linejoin="miter"/>
<polyline points="502.5,794.7 535.0,822.3" fill="none" stroke="#13315a" stroke-width="1.95" stroke-linejoin="miter"/>
<polyline points="473.3,829.5 506.7,857.3" fill="none" stroke="#13315a" stroke-width="1.95" stroke-linejoin="miter"/>
<polyline points="859.5,732.8 831.9,766.6" fill="none" stroke="#13315a" stroke-width="1.95" stroke-linejoin="miter"/>
<polyline points="894.6,763.5 867.0,795.4" fill="none" stroke="#13315a" stroke-width="1.95" stroke-linejoin="miter"/>
<polyline points="816.9,780.4 789.9,812.3" fill="none" stroke="#13315a" stroke-width="1.95" stroke-linejoin="miter"/>
<polyline points="853.2,811.1 828.2,844.9" fill="none" stroke="#13315a" stroke-width="1.95" stroke-linejoin="miter"/>
<polyline points="888.4,952.7 929.9,952.7" fill="none" stroke="#13315a" stroke-width="1.95" stroke-linejoin="miter"/>
<polyline points="946.7,952.7 997.3,952.7" fill="none" stroke="#13315a" stroke-width="1.95" stroke-linejoin="miter"/>
<polyline points="888.4,994.7 929.9,994.7" fill="none" stroke="#13315a" stroke-width="1.95" stroke-linejoin="miter"/>
<polyline points="946.7,994.7 997.3,994.7" fill="none" stroke="#13315a" stroke-width="1.95" stroke-linejoin="miter"/>
<polyline points="888.4,1038.3 929.9,1038.3" fill="none" stroke="#13315a" stroke-width="1.95" stroke-linejoin="miter"/>
<polyline points="946.7,1038.3 997.3,1038.3" fill="none" stroke="#13315a" stroke-width="1.95" stroke-linejoin="miter"/>
<polygon points="298.1,973.4 463.7,973.4 462.8,1150.0 297.6,1149.0" fill="none" stroke="#13315a" stroke-width="1.95" stroke-linejoin="miter"/>
<polyline points="946.7,952.7 997.3,952.7" fill="none" stroke="#13315a" stroke-width="1.95" stroke-linejoin="miter"/>
<text transform="translate(537.1,784.1) rotate(-49.8) scale(0.9,1)" x="-14.9 -2.2 10.4" y="8.2" font-size="23.2" text-anchor="middle" fill="#13315a" stroke="#13315a" stroke-width="0.75">I05</text>
<text transform="translate(501.5,823.8) rotate(-49.8) scale(0.9,1)" x="-14.9 -2.2 10.4" y="8.2" font-size="23.2" text-anchor="middle" fill="#13315a" stroke="#13315a" stroke-width="0.75">I03</text>
<text transform="translate(466.3,868.3) rotate(-49.8) scale(0.9,1)" x="-12.7 0.0 12.7" y="8.2" font-size="23.2" text-anchor="middle" fill="#13315a" stroke="#13315a" stroke-width="0.75">I0I</text>
<text transform="translate(818.8,730.8) rotate(40.2) scale(0.9,1)" x="-14.9 -2.2 10.4" y="8.2" font-size="23.2" text-anchor="middle" fill="#13315a" stroke="#13315a" stroke-width="0.75">II4</text>
<text transform="translate(861.6,764.3) rotate(40.2) scale(0.9,1)" x="-14.9 -2.2 10.4" y="8.2" font-size="23.2" text-anchor="middle" fill="#13315a" stroke="#13315a" stroke-width="0.75">II6</text>
<text transform="translate(898.5,796.8) rotate(40.2) scale(0.9,1)" x="-14.9 -2.2 10.4" y="8.2" font-size="23.2" text-anchor="middle" fill="#13315a" stroke="#13315a" stroke-width="0.75">II8</text>
<text transform="translate(782.5,777.8) rotate(40.2) scale(0.9,1)" x="-14.9 -2.2 10.4" y="8.2" font-size="23.2" text-anchor="middle" fill="#13315a" stroke="#13315a" stroke-width="0.75">II5</text>
<text transform="translate(821.8,811.9) rotate(40.2) scale(0.9,1)" x="-14.9 -2.2 10.4" y="8.2" font-size="23.2" text-anchor="middle" fill="#13315a" stroke="#13315a" stroke-width="0.75">II7</text>
<text transform="translate(866.2,846.8) rotate(40.2) scale(0.9,1)" x="-14.9 -2.2 10.4" y="8.2" font-size="23.2" text-anchor="middle" fill="#13315a" stroke="#13315a" stroke-width="0.75">II9</text>
<text transform="translate(595.8,753.8) scale(0.9,1)" x="-14.4 -2.2 9.9" y="8.2" font-size="23.2" text-anchor="middle" fill="#13315a" stroke="#13315a" stroke-width="0.75">I07</text>
<text transform="translate(637.2,753.8) scale(0.9,1)" x="-15.1 -2.2 10.6" y="8.2" font-size="23.2" text-anchor="middle" fill="#13315a" stroke="#13315a" stroke-width="0.75">I09</text>
<text transform="translate(678.8,753.8) scale(0.9,1)" x="-12.7 0.0 12.7" y="8.2" font-size="23.2" text-anchor="middle" fill="#13315a" stroke="#13315a" stroke-width="0.75">III</text>
<text transform="translate(727.2,753.8) scale(0.9,1)" x="-14.9 -2.2 10.5" y="8.2" font-size="23.2" text-anchor="middle" fill="#13315a" stroke="#13315a" stroke-width="0.75">II3</text>
<text transform="translate(908.3,933.8) scale(0.9,1)" x="-13.5 0.0 13.5" y="8.2" font-size="23.2" text-anchor="middle" fill="#13315a" stroke="#13315a" stroke-width="0.75">I2I</text>
<text transform="translate(909.7,976.1) scale(0.9,1)" x="-14.9 -2.2 10.5" y="8.2" font-size="23.2" text-anchor="middle" fill="#13315a" stroke="#13315a" stroke-width="0.75">I23</text>
<text transform="translate(909.2,1019.3) scale(0.9,1)" x="-14.4 -2.2 9.9" y="8.2" font-size="23.2" text-anchor="middle" fill="#13315a" stroke="#13315a" stroke-width="0.75">I25</text>
<text transform="translate(909.7,1061.8) scale(0.9,1)" x="-14.9 -2.2 10.5" y="8.2" font-size="23.2" text-anchor="middle" fill="#13315a" stroke="#13315a" stroke-width="0.75">I27</text>
<text transform="translate(970.8,976.1) scale(0.9,1)" x="-15.4 -2.2 10.9" y="8.2" font-size="23.2" text-anchor="middle" fill="#13315a" stroke="#13315a" stroke-width="0.75">I22</text>
<text transform="translate(970.2,1019.3) scale(0.9,1)" x="-14.8 -2.2 10.4" y="8.2" font-size="23.2" text-anchor="middle" fill="#13315a" stroke="#13315a" stroke-width="0.75">I24</text>
<text transform="translate(970.8,1061.8) scale(0.9,1)" x="-15.4 -2.2 10.9" y="8.2" font-size="23.2" text-anchor="middle" fill="#13315a" stroke="#13315a" stroke-width="0.75">I26</text>
<text transform="translate(698.9,627.0) rotate(0.0)" x="0" y="6.7" font-size="19" text-anchor="middle" font-weight="normal" fill="#13315a" textLength="61.2" lengthAdjust="spacingAndGlyphs" stroke="#13315a" stroke-width="0.4">BASTU</text>
<polyline points="703.5,642.5 703.5,681.0" fill="none" stroke="#13315a" stroke-width="1.9"/>
<polygon points="703.5,689.0 699.5,679.0 703.5,680.5 707.5,679.0" fill="#13315a"/>
<text transform="translate(362.1,726.4) rotate(0.0)" x="0" y="6.7" font-size="19" text-anchor="middle" font-weight="normal" fill="#13315a" textLength="125.4" lengthAdjust="spacingAndGlyphs" stroke="#13315a" stroke-width="0.4">TVÄTTSTUGA</text>
<polyline points="374.4,742.7 451.3,777.7" fill="none" stroke="#13315a" stroke-width="1.9"/>
<polygon points="458.6,781.0 447.8,780.5 450.9,777.5 451.2,773.2" fill="#13315a"/>
<text transform="translate(332.1,789.0) rotate(0.0)" x="0" y="6.7" font-size="19" text-anchor="middle" font-weight="normal" fill="#13315a" textLength="124.4" lengthAdjust="spacingAndGlyphs" stroke="#13315a" stroke-width="0.4">SKIDFÖRRÅD</text>
<text transform="translate(304.8,809.9) rotate(0.0)" x="0" y="6.7" font-size="19" text-anchor="middle" font-weight="normal" fill="#13315a" textLength="66.6" lengthAdjust="spacingAndGlyphs" stroke="#13315a" stroke-width="0.4">201-222</text>
<text transform="translate(304.8,829.9) rotate(0.0)" x="0" y="6.7" font-size="19" text-anchor="middle" font-weight="normal" fill="#13315a" textLength="66.6" lengthAdjust="spacingAndGlyphs" stroke="#13315a" stroke-width="0.4">301-322</text>
<text transform="translate(304.9,850.2) rotate(0.0)" x="0" y="6.7" font-size="19" text-anchor="middle" font-weight="normal" fill="#13315a" textLength="66.6" lengthAdjust="spacingAndGlyphs" stroke="#13315a" stroke-width="0.4">401-420</text>
<polyline points="370.2,808.6 409.4,823.3" fill="none" stroke="#13315a" stroke-width="1.9"/>
<polygon points="416.9,826.1 406.1,826.3 408.9,823.1 408.9,818.8" fill="#13315a"/>
<text transform="translate(1048.4,753.7) rotate(0.0)" x="0" y="6.7" font-size="19" text-anchor="middle" font-weight="normal" fill="#13315a" textLength="124.4" lengthAdjust="spacingAndGlyphs" stroke="#13315a" stroke-width="0.4">SKIDFÖRRÅD</text>
<text transform="translate(1096.6,774.3) rotate(0.0)" x="0" y="6.7" font-size="19" text-anchor="middle" font-weight="normal" fill="#13315a" textLength="66.4" lengthAdjust="spacingAndGlyphs" stroke="#13315a" stroke-width="0.4">223-233</text>
<text transform="translate(1096.6,794.4) rotate(0.0)" x="0" y="6.7" font-size="19" text-anchor="middle" font-weight="normal" fill="#13315a" textLength="66.4" lengthAdjust="spacingAndGlyphs" stroke="#13315a" stroke-width="0.4">323-333</text>
<text transform="translate(1096.6,815.2) rotate(0.0)" x="0" y="6.7" font-size="19" text-anchor="middle" font-weight="normal" fill="#13315a" textLength="66.4" lengthAdjust="spacingAndGlyphs" stroke="#13315a" stroke-width="0.4">421-429</text>
<polyline points="1052.6,776.5 1020.9,927.8 991.1,935.4" fill="none" stroke="#13315a" stroke-width="1.9"/>
<polygon points="983.3,937.4 992.0,931.1 991.5,935.3 994.0,938.8" fill="#13315a"/>
<text transform="translate(983.8,832.8) rotate(0.0)" x="0" y="6.7" font-size="19" text-anchor="middle" font-weight="normal" fill="#13315a" textLength="59.2" lengthAdjust="spacingAndGlyphs" stroke="#13315a" stroke-width="0.4">ENTRÉ</text>
<polyline points="980.4,846.4 980.4,883.5" fill="none" stroke="#13315a" stroke-width="1.9"/>
<polygon points="980.4,891.5 976.4,881.5 980.4,883.0 984.4,881.5" fill="#13315a"/>
<text transform="translate(378.1,1062.4) rotate(0.0)" x="0" y="6.7" font-size="19" text-anchor="middle" font-weight="normal" fill="#13315a" textLength="116.6" lengthAdjust="spacingAndGlyphs" stroke="#13315a" stroke-width="0.4">POOLARIUM</text>
<text transform="translate(670.0,851.0) rotate(0.0)" x="0" y="10.3" font-size="29" text-anchor="middle" font-weight="bold" fill="#13315a" textLength="110.0" lengthAdjust="spacingAndGlyphs">PLAN 1</text>
<text transform="translate(662.6,899.0) rotate(0.0)" x="0" y="10.3" font-size="29" text-anchor="middle" font-weight="bold" fill="#13315a" textLength="191.2" lengthAdjust="spacingAndGlyphs">SUTERRÄNG</text>
<text x="304.2" y="1234.9" font-size="42" fill="#c4321f" stroke="#c4321f" stroke-width="0.3" textLength="262.8" lengthAdjust="spacingAndGlyphs">LÄGENHETER</text>
<text x="578.6" y="1234.9" font-size="42" fill="#c4321f" stroke="#c4321f" stroke-width="0.3" textLength="49.4" lengthAdjust="spacingAndGlyphs">PÅ</text>
<text x="639.4" y="1234.9" font-size="42" fill="#c4321f" stroke="#c4321f" stroke-width="0.3" textLength="223.8" lengthAdjust="spacingAndGlyphs">MARKPLAN</text>
<text x="869.8" y="1234.9" font-size="42" fill="#c4321f" stroke="#c4321f" stroke-width="0.3" textLength="90.8" lengthAdjust="spacingAndGlyphs">HAR</text>
<text x="970.2" y="1234.9" font-size="42" fill="#c4321f" stroke="#c4321f" stroke-width="0.3" textLength="248.2" lengthAdjust="spacingAndGlyphs">SKIDFÖRRÅD</text>
<text x="1227.0" y="1234.9" font-size="42" fill="#c4321f" stroke="#c4321f" stroke-width="0.3" textLength="63.2" lengthAdjust="spacingAndGlyphs">PÅ</text>
<text x="1303.2" y="1234.9" font-size="42" fill="#c4321f" stroke="#c4321f" stroke-width="0.3" textLength="466.8" lengthAdjust="spacingAndGlyphs">ALTANEN/UTEPLATSEN!</text>
</svg>
</body></html>
